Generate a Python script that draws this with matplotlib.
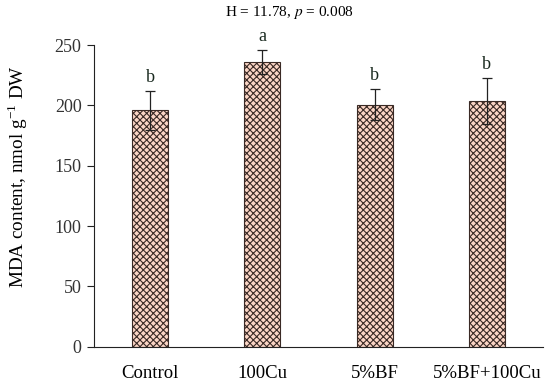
import matplotlib
matplotlib.use('Agg')
import matplotlib.pyplot as plt
import numpy as np

# data
groups = ['Control', '100Cu', '5%BF', '5%BF+100Cu']
mda_mean = [196, 236, 200.5, 203.5]
mda_err = [16, 10, 13, 19]
letters = ['b', 'a', 'b', 'b']

plt.rcParams['font.family'] = ['Liberation Serif', 'DejaVu Serif']
plt.rcParams['mathtext.fontset'] = 'stix'
plt.rcParams['hatch.linewidth'] = 0.8
plt.rcParams['hatch.color'] = '#7a3b2c'

fig = plt.figure(figsize=(5.5, 3.88), dpi=100, facecolor='white')
ax = fig.add_axes([0.171, 0.106, 0.816, 0.778])

x = np.arange(len(groups))
ax.bar(x, mda_mean, width=0.32, color='#fbd5c5', edgecolor='#3a2a25',
       linewidth=0.8, hatch='xxxxx', zorder=2)
ax.errorbar(x, mda_mean, yerr=mda_err, fmt='none', ecolor='#222222',
            elinewidth=0.9, capsize=3.5, capthick=0.9, zorder=3)

# significance letters above the error bars
for xi, m, e, lab in zip(x, mda_mean, mda_err, letters):
    ax.text(xi, m + e + 4, lab, ha='center', va='bottom', fontsize=13,
            color='#1a2a20')

ax.set_xlim(-0.5, len(groups) - 0.5)
ax.set_ylim(0, 250)
ax.set_yticks([0, 50, 100, 150, 200, 250])
ax.set_xticks(x)
ax.set_xticklabels(groups)
ax.tick_params(axis='x', length=0, labelsize=13.5, pad=13)
ax.tick_params(axis='y', length=5, width=0.8, labelsize=13, direction='out',
               pad=4, colors='#222222')
ax.tick_params(axis='y', labelcolor='#333333')

for side in ['top', 'right']:
    ax.spines[side].set_visible(False)
for side in ['left', 'bottom']:
    ax.spines[side].set_linewidth(0.8)
    ax.spines[side].set_color('#222222')

ax.set_ylabel(r'MDA content, nmol g$^{\mathregular{-1}}$ DW', fontsize=13.8)
ax.yaxis.set_label_coords(-0.143, 0.565)

fig.text(0.527, 0.968, r'H = 11.78, $\it{p}$ = 0.008', ha='center', va='center',
         fontsize=11)

plt.savefig('out.png', dpi=100)
plt.close()
